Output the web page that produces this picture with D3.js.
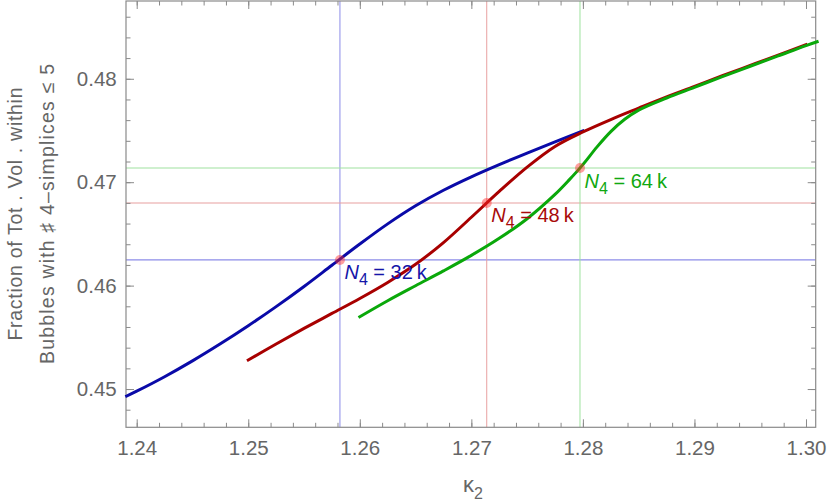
<!DOCTYPE html>
<html>
<head>
<meta charset="utf-8">
<script src="https://cdn.jsdelivr.net/npm/d3@7"></script>
<style>
  html, body { margin: 0; padding: 0; background: #fff; }
  svg { display: block; font-family: "Liberation Sans", Arial, sans-serif; }
</style>
</head>
<body>
<svg id="chart" width="830" height="503"></svg>
<script>
// ---------------- data ----------------
const kappa32 = [1.2391, 1.2400, 1.2425, 1.2450, 1.2475, 1.2500, 1.2525, 1.2550, 1.2575, 1.2600, 1.2625, 1.2650, 1.2675, 1.2700, 1.2725, 1.2750, 1.2775, 1.2800];
const frac32  = [0.44932, 0.44979, 0.45119, 0.45272, 0.45437, 0.45612, 0.45797, 0.45992, 0.46197, 0.46402, 0.46597, 0.46772, 0.46922, 0.47052, 0.47170, 0.47282, 0.47390, 0.47495];

const kappa48 = [1.2500, 1.2525, 1.2550, 1.2575, 1.2600, 1.2625, 1.2650, 1.2675, 1.2700, 1.2725, 1.2750, 1.2775, 1.2800, 1.2825, 1.2850, 1.2875, 1.2900, 1.2925, 1.2950, 1.2975, 1.3000];
const frac48  = [0.45281, 0.45436, 0.45586, 0.45731, 0.45876, 0.46031, 0.46206, 0.46416, 0.46661, 0.46911, 0.47146, 0.47346, 0.47486, 0.47606, 0.47716, 0.47824, 0.47926, 0.48029, 0.48129, 0.48229, 0.48329];

const kappa64 = [1.2600, 1.2625, 1.2650, 1.2675, 1.2700, 1.2725, 1.2750, 1.2775, 1.27875, 1.2800, 1.28125, 1.2825, 1.28375, 1.2850, 1.2875, 1.2900, 1.2925, 1.2950, 1.2975, 1.3000, 1.3010];
const frac64  = [0.45699, 0.45854, 0.45999, 0.46142, 0.46292, 0.46457, 0.46647, 0.46882, 0.47020, 0.47170, 0.47339, 0.47489, 0.47608, 0.47697, 0.47814, 0.47917, 0.48021, 0.48121, 0.48221, 0.48321, 0.48358];

const seriesNames = ["32k", "48k", "64k"];
const crossKappa = [1.25822, 1.27138, 1.27974];
const crossFrac  = [0.46248, 0.46799, 0.47137];

const xMajorTicks = [1.24, 1.25, 1.26, 1.27, 1.28, 1.29, 1.30];
const xTickLabels = ["1.24", "1.25", "1.26", "1.27", "1.28", "1.29", "1.30"];
const yMajorTicks = [0.45, 0.46, 0.47, 0.48];
const yTickLabels = ["0.45", "0.46", "0.47", "0.48"];
const xMinorTicks = [1.240,1.242,1.244,1.246,1.248,1.250,1.252,1.254,1.256,1.258,1.260,1.262,1.264,1.266,1.268,1.270,1.272,1.274,1.276,1.278,1.280,1.282,1.284,1.286,1.288,1.290,1.292,1.294,1.296,1.298,1.300];
const yMinorTicks = [0.448,0.450,0.452,0.454,0.456,0.458,0.460,0.462,0.464,0.466,0.468,0.470,0.472,0.474,0.476,0.478,0.480,0.482,0.484,0.486];

const xDomain = [1.23904, 1.30087];
const yDomain = [0.44630, 0.48752];

// ---------------- layout / style ----------------
const L = 126, R = 815.7, T = 1, B = 427.3;
const lineColors = ["#0a0aa8", "#a80000", "#0aa80a"];
const refColors  = ["#8c8ce8", "#e8a0a0", "#9fe29f"];
const textColors = ["#1515a8", "#a80a0a", "#10a810"];
const axisColor = "#8a8a8a";
const labelColor = "#666666";

const svg = d3.select("#chart");
const x = d3.scaleLinear().domain(xDomain).range([L, R]);
const y = d3.scaleLinear().domain(yDomain).range([B, T]);

// reference lines
const refG = svg.append("g");
crossKappa.forEach((k, i) => {
  refG.append("line")
    .attr("x1", x(k)).attr("x2", x(k)).attr("y1", T).attr("y2", B)
    .attr("stroke", refColors[i]).attr("stroke-width", 1);
  refG.append("line")
    .attr("x1", L).attr("x2", R).attr("y1", y(crossFrac[i])).attr("y2", y(crossFrac[i]))
    .attr("stroke", refColors[i]).attr("stroke-width", 1.2);
});

// axes (inward ticks, Mathematica frame style)
function styleAxis(g) {
  g.select(".domain").remove();
  g.selectAll(".tick line").attr("stroke", axisColor).attr("stroke-width", 1);
  g.selectAll(".tick text").attr("fill", labelColor).style("font-size", "20.5px")
    .style("font-family", "'Liberation Sans', Arial, sans-serif");
}
const majorLen = 8, minorLen = 4.5;

svg.append("g").attr("transform", `translate(0,${B})`)
  .call(d3.axisBottom(x).tickValues(xMinorTicks).tickSize(-minorLen).tickFormat(""))
  .call(styleAxis);
svg.append("g").attr("transform", `translate(0,${B})`)
  .call(d3.axisBottom(x).tickValues(xMajorTicks).tickSize(-majorLen).tickPadding(13)
        .tickFormat((d, i) => xTickLabels[i]))
  .call(styleAxis);
svg.append("g").attr("transform", `translate(0,${T})`)
  .call(d3.axisTop(x).tickValues(xMinorTicks).tickSize(-minorLen).tickFormat(""))
  .call(styleAxis);
svg.append("g").attr("transform", `translate(0,${T})`)
  .call(d3.axisTop(x).tickValues(xMajorTicks).tickSize(-majorLen).tickFormat(""))
  .call(styleAxis);

svg.append("g").attr("transform", `translate(${L},0)`)
  .call(d3.axisLeft(y).tickValues(yMinorTicks).tickSize(-minorLen).tickFormat(""))
  .call(styleAxis);
svg.append("g").attr("transform", `translate(${L},0)`)
  .call(d3.axisLeft(y).tickValues(yMajorTicks).tickSize(-majorLen).tickPadding(9.3)
        .tickFormat((d, i) => yTickLabels[i]))
  .call(styleAxis);
svg.append("g").attr("transform", `translate(${R},0)`)
  .call(d3.axisRight(y).tickValues(yMinorTicks).tickSize(-minorLen).tickFormat(""))
  .call(styleAxis);
svg.append("g").attr("transform", `translate(${R},0)`)
  .call(d3.axisRight(y).tickValues(yMajorTicks).tickSize(-majorLen).tickFormat(""))
  .call(styleAxis);

// frame
svg.append("rect").attr("x", L).attr("y", T).attr("width", R - L).attr("height", B - T)
  .attr("fill", "none").attr("stroke", axisColor).attr("stroke-width", 1.2);

// curves
const line = d3.line().x(d => x(d[0])).y(d => y(d[1])).curve(d3.curveCatmullRom.alpha(0.5));
const series = [
  d3.zip(kappa32, frac32),
  d3.zip(kappa48, frac48),
  d3.zip(kappa64, frac64)
];
series.forEach((s, i) => {
  svg.append("path").datum(s)
    .attr("d", line)
    .attr("fill", "none")
    .attr("stroke", lineColors[i])
    .attr("stroke-width", 3)
    .attr("stroke-linejoin", "round")
    .attr("stroke-linecap", "square");
});

// crossing dots
crossKappa.forEach((k, i) => {
  svg.append("circle")
    .attr("cx", x(k)).attr("cy", y(crossFrac[i])).attr("r", 5)
    .attr("fill", "rgba(255,40,40,0.45)");
});

// N4 labels
crossKappa.forEach((k, i) => {
  const t = svg.append("text")
    .attr("x", x(k) + 4.5)
    .attr("y", y(crossFrac[i]) + 19.5)
    .attr("fill", textColors[i])
    .style("font-size", "20px");
  t.append("tspan").style("font-style", "italic").text("N");
  t.append("tspan").attr("dy", 6).style("font-size", "16px").text("4");
  t.append("tspan").attr("dy", -6).text(" = " + seriesNames[i].replace("k", "\u2009k"));
});

// axis titles
const xt = svg.append("text")
  .attr("x", 473).attr("y", 492)
  .attr("text-anchor", "middle")
  .attr("fill", labelColor)
  .style("font-size", "22px");
xt.append("tspan").text("\u03BA");
xt.append("tspan").attr("dy", 7).style("font-size", "16px").text("2");

const yt = svg.append("text")
  .attr("transform", "translate(22,214) rotate(-90)")
  .attr("text-anchor", "middle")
  .attr("fill", labelColor)
  .style("font-size", "19.5px");
yt.append("tspan").attr("x", 0).attr("y", 0).attr("textLength", 253).attr("lengthAdjust", "spacing")
  .text("Fraction of Tot . Vol . within");
yt.append("tspan").attr("x", 0).attr("y", 32).attr("textLength", 300).attr("lengthAdjust", "spacing")
  .text("Bubbles with \u266F 4\u2013simplices \u2264 5");
</script>
</body>
</html>
